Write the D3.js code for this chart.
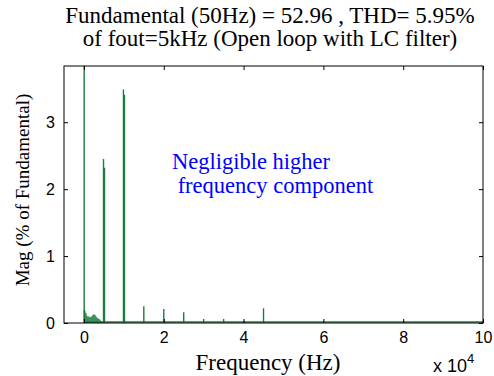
<!DOCTYPE html>
<html>
<head>
<meta charset="utf-8">
<script src="https://cdn.jsdelivr.net/npm/d3@7"></script>
<style>
  body { margin: 0; background: #fff; }
  svg { display: block; }
</style>
</head>
<body>
<div id="graphArea"></div>
<script>
// spectrum values, Hz and % of fundamental
var peakFreq = [50, 4900, 5150, 9900, 10150, 15000, 20000, 25000, 30000, 35000, 40000, 45000];
var peakMag = [100, 2.45, 2.32, 3.49, 3.41, 0.25, 0.21, 0.16, 0.06, 0.06, 0.03, 0.22];

var lowFreq = [100, 250, 500, 750, 1000, 1250, 1500, 1750, 2000, 2250, 2500, 2750, 3000, 3250, 3500, 3750, 4000, 4250];
var lowMag = [0.20, 0.18, 0.15, 0.11, 0.09, 0.10, 0.08, 0.09, 0.10, 0.12, 0.13, 0.12, 0.10, 0.08, 0.07, 0.06, 0.05, 0.03];

var xTicks = [0, 20000, 40000, 60000, 80000, 100000];
var yTicks = [0, 1, 2, 3];

var titleLines = ["Fundamental (50Hz) = 52.96 , THD= 5.95%", "of fout=5kHz (Open loop with LC filter)"];
var noteLines = ["Negligible higher", " frequency component"];

function visualize() {
    var W = 494, H = 376;
    var pL = 64, pR = 483, pT = 66, pB = 323;
    var green = "#1b7d3e";

    var svg = d3.select("#graphArea").append("svg").attr("width", W).attr("height", H);

    var xScale = d3.scaleLinear().domain([-5000, 100000]).range([pL, pR]);
    var yScale = d3.scaleLinear().domain([0, 3.84]).range([pB, pT]);

    svg.append("clipPath").attr("id", "plotClip")
        .append("rect")
        .attr("x", pL).attr("y", pT)
        .attr("width", pR - pL).attr("height", pB - pT);

    var plot = svg.append("g").attr("clip-path", "url(#plotClip)");

    // baseline of the tiny bins along the whole range
    plot.append("line")
        .attr("x1", xScale(0)).attr("x2", xScale(100000))
        .attr("y1", yScale(0) - 1).attr("y2", yScale(0) - 1)
        .attr("stroke", green).attr("stroke-width", 1.5);

    plot.selectAll("rect.low")
        .data(lowFreq)
        .enter()
        .append("rect")
        .attr("class", "low")
        .attr("x", (d) => xScale(d) - 0.6)
        .attr("y", (d, i) => yScale(lowMag[i]))
        .attr("width", 1.2)
        .attr("height", (d, i) => yScale(0) - yScale(lowMag[i]))
        .style("fill", green);

    plot.selectAll("rect.peak")
        .data(peakFreq)
        .enter()
        .append("rect")
        .attr("class", "peak")
        .attr("x", (d) => xScale(d) - 0.7)
        .attr("y", (d, i) => yScale(peakMag[i]))
        .attr("width", 1.4)
        .attr("height", (d, i) => yScale(0) - yScale(peakMag[i]))
        .style("fill", green);

    // axes, ticks pointing inward
    var fmtX = (d) => d / 10000;

    var xAxis = d3.axisBottom(xScale).tickValues(xTicks).tickFormat(fmtX).tickSize(-4).tickSizeOuter(0).tickPadding(9);
    var xTop = d3.axisTop(xScale).tickValues(xTicks).tickFormat("").tickSize(-4).tickSizeOuter(0);
    var yAxis = d3.axisLeft(yScale).tickValues(yTicks).tickFormat(d3.format("d")).tickSize(-4).tickSizeOuter(0).tickPadding(9);
    var yRight = d3.axisRight(yScale).tickValues(yTicks).tickFormat("").tickSize(-4).tickSizeOuter(0);

    var axes = [
        svg.append("g").attr("transform", "translate(0," + pB + ")").call(xAxis),
        svg.append("g").attr("transform", "translate(0," + pT + ")").call(xTop),
        svg.append("g").attr("transform", "translate(" + pL + ",0)").call(yAxis),
        svg.append("g").attr("transform", "translate(" + pR + ",0)").call(yRight)
    ];

    axes.forEach((g) => {
        g.select(".domain").remove();
        g.selectAll("text")
            .style("font-family", "'Liberation Sans', Arial, sans-serif")
            .style("font-size", "16px")
            .attr("fill", "#000");
        g.selectAll("line").attr("stroke", "#000");
    });

    // plot box
    svg.append("rect")
        .attr("x", pL).attr("y", pT)
        .attr("width", pR - pL).attr("height", pB - pT)
        .attr("fill", "none").attr("stroke", "#000").attr("stroke-width", 1);

    var serif = "'Liberation Serif', 'Times New Roman', serif";

    svg.selectAll("text.title")
        .data(titleLines)
        .enter()
        .append("text")
        .attr("class", "title")
        .attr("x", 270)
        .attr("y", (d, i) => 23 + i * 23)
        .attr("text-anchor", "middle")
        .style("font-family", serif)
        .style("font-size", "23px")
        .text((d) => d);

    svg.selectAll("text.note")
        .data(noteLines)
        .enter()
        .append("text")
        .attr("class", "note")
        .attr("x", 172)
        .attr("y", (d, i) => 169 + i * 24)
        .style("white-space", "pre")
        .style("font-family", serif)
        .style("font-size", "22.5px")
        .style("fill", "#0000ff")
        .text((d) => d);

    svg.append("text")
        .attr("x", 268)
        .attr("y", 370)
        .attr("text-anchor", "middle")
        .style("font-family", serif)
        .style("font-size", "23px")
        .text("Frequency (Hz)");

    svg.append("text")
        .attr("transform", "translate(29,190) rotate(-90)")
        .attr("text-anchor", "middle")
        .style("font-family", serif)
        .style("font-size", "19px")
        .text("Mag (% of Fundamental)");

    var expo = svg.append("text")
        .attr("x", 433)
        .attr("y", 372)
        .style("font-family", "'Liberation Sans', Arial, sans-serif")
        .style("font-size", "18px");
    expo.append("tspan").text("x 10");
    expo.append("tspan").attr("dy", -9).style("font-size", "13px").text("4");
}

document.addEventListener("DOMContentLoaded", () => {
    visualize();
});
</script>
</body>
</html>
